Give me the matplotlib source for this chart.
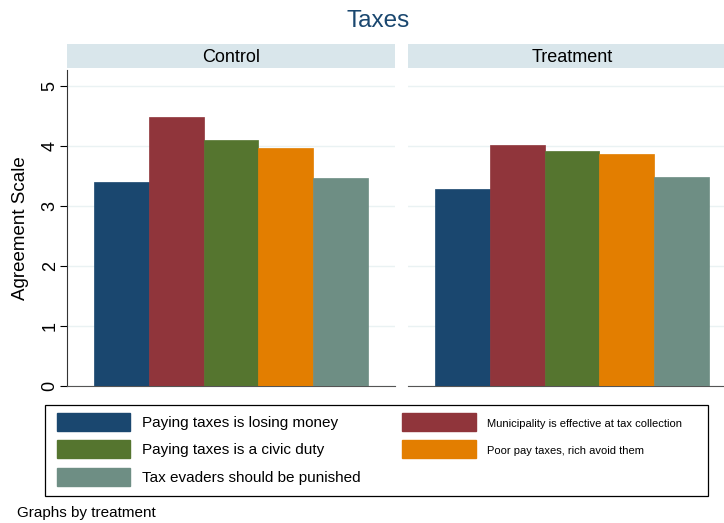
import matplotlib.pyplot as plt
from matplotlib.patches import Patch, Rectangle

plt.rcParams['font.family'] = ['Liberation Sans', 'DejaVu Sans']

# mean agreement per statement
statements = ["Paying taxes is losing money",
              "Municipality is effective at tax collection",
              "Paying taxes is a civic duty",
              "Poor pay taxes, rich avoid them",
              "Tax evaders should be punished"]
colors = ["#1a476f", "#90353b", "#55752f", "#e37e00", "#6e8e84"]
groups = ["Control", "Treatment"]
control = [3.41, 4.49, 4.11, 3.97, 3.47]
treatment = [3.28, 4.02, 3.92, 3.87, 3.49]
values = [control, treatment]

W, H = 724, 523
fig = plt.figure(figsize=(W / 100, H / 100), dpi=100)

def box(x0, y0, x1, y1):
    # pixel box (top-left origin) -> figure fraction rect
    return [x0 / W, (H - y1) / H, (x1 - x0) / W, (y1 - y0) / H]

panels = [(67, 395), (408, 736)]
pos = list(range(1, len(statements) + 1))
for k, (x0, x1) in enumerate(panels):
    ax = fig.add_axes(box(x0, 70, x1, 386))
    ax.bar(pos, values[k], width=1.0, color=colors, edgecolor=colors,
           linewidth=0.5, zorder=3)
    ax.set_xlim(0, 6)
    ax.set_ylim(0, 5.27)
    ax.set_yticks(range(6))
    ax.yaxis.grid(True, color="#eaf2f3", linewidth=1.0, zorder=0)
    ax.set_xticks([])
    for s in ["top", "right"]:
        ax.spines[s].set_visible(False)
    ax.spines["bottom"].set_color("#555555")
    if k == 0:
        ax.spines["left"].set_color("#333333")
        ax.tick_params(axis="y", length=5, width=0.8, labelsize=13,
                       labelrotation=90, pad=1)
        for t in ax.get_yticklabels():
            t.set_va("center")
        ax.set_ylabel("Agreement Scale", fontsize=13.5, labelpad=9)
    else:
        ax.spines["left"].set_visible(False)
        ax.tick_params(axis="y", length=0, labelleft=False)
    # panel header strip
    hd = fig.add_axes(box(x0, 44, x1, 68))
    hd.set_facecolor("#d9e6eb")
    hd.set_xticks([])
    hd.set_yticks([])
    for s in hd.spines.values():
        s.set_visible(False)
    hd.text(0.5, 0.42, groups[k], ha="center", va="center", fontsize=13,
            transform=hd.transAxes)

fig.text(378 / W, 1 - 21 / H, "Taxes", ha="center", va="center",
         fontsize=17.5, color="#1a476f")

# legend frame
fig.patches.append(Rectangle((45 / W, (H - 496) / H), 663 / W, 91 / H,
                             transform=fig.transFigure, fill=False,
                             edgecolor="black", linewidth=0.9))

order = [0, 2, 4, 1, 3]
handles = [Patch(facecolor=colors[i], edgecolor=colors[i]) for i in order]
labels = [statements[i] for i in order]
leg = fig.legend(handles, labels, ncol=2, loc="upper left",
                 bbox_to_anchor=(57 / W, 1 - 413 / H),
                 fontsize=11, handlelength=4.8, handleheight=1.45,
                 handletextpad=0.75, labelspacing=0.6, borderpad=0,
                 borderaxespad=0, columnspacing=2.75, frameon=False)
for i, t in enumerate(leg.get_texts()):
    if order[i] in (1, 3):
        t.set_fontsize(8)

fig.text(17 / W, 1 - 513 / H, "Graphs by treatment", ha="left",
         va="center", fontsize=11)

fig.savefig("out.png", dpi=100, facecolor="white")
